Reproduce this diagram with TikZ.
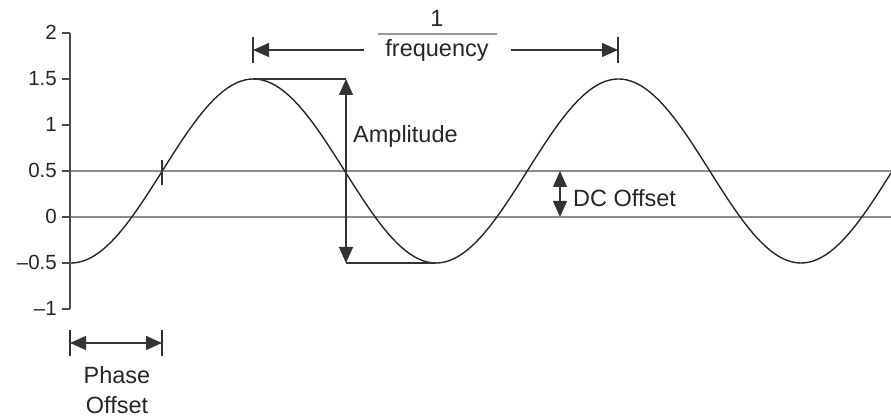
\documentclass[tikz,border=0pt]{standalone}
\usepackage{fontspec}
\setmainfont{Liberation Sans}
\usetikzlibrary{arrows.meta}
\begin{document}
\begin{tikzpicture}[x=1pt,y=-1pt,
  lbl/.style={font=\fontsize{23.5}{27}\selectfont, text=black!85, inner sep=0pt},
  ticklbl/.style={font=\fontsize{20.5}{22}\selectfont, text=black!85, inner sep=0pt, anchor=base east},
  axisline/.style={line width=1.4pt, draw=black!70},
  refline/.style={line width=2.4pt, draw=black!45},
  dimline/.style={line width=1.3pt, draw=black!80},
  wave/.style={line width=1.4pt, draw=black!85},
  tri/.style={-{Triangle[length=16pt,width=14pt]}},
]
\useasboundingbox (0,0) rectangle (891,419);

% reference lines (0.5 and 0)
\coordinate (h5a) at (70,171); \coordinate (h5b) at (891,171);
\coordinate (h0a) at (70,217); \coordinate (h0b) at (891,217);
\draw[refline] (h5a) -- (h5b);
\draw[refline] (h0a) -- (h0b);

% axis
\coordinate (axtop) at (70,33); \coordinate (axbot) at (70,309);
\draw[axisline] (axtop) -- (axbot);
\foreach \i/\y/\t in {a/33/2, b/79/1.5, c/125/1, d/171/0.5, e/217/0, f/263/{–0.5}, g/309/{–1}}{
  \coordinate (tk\i) at (62,\y);
  \draw[axisline] (tk\i) -- (70,\y);
  \node[ticklbl] (tl\i) at (57,\y+7) {\t};
}

% sine wave
\draw[wave] plot[domain=71:891, samples=300, smooth] (\x, {171 + 92*cos((\x-71)*0.98630137)});

% phase crossing tick
\coordinate (pc1) at (162,160); \coordinate (pc2) at (162,185);
\draw[dimline] (pc1) -- (pc2);

% amplitude
\coordinate (pk) at (253,79); \coordinate (ampt) at (346,79);
\coordinate (ampb) at (346,263); \coordinate (tr) at (436,263);
\coordinate (ampm) at (346,171);
\draw[dimline] (pk) -- (ampt);
\draw[dimline] (tr) -- (ampb);
\draw[dimline,tri] (ampm) -- (ampt);
\draw[dimline,tri] (ampm) -- (ampb);
\node[lbl, anchor=base west] (amp) at (353,143) {Amplitude};

% frequency
\coordinate (f1a) at (253,37); \coordinate (f1b) at (253,63);
\coordinate (f2a) at (618,37); \coordinate (f2b) at (618,63);
\draw[dimline] (f1a) -- (f1b);
\draw[dimline] (f2a) -- (f2b);
\coordinate (fl) at (253,50); \coordinate (fr) at (618,50);
\coordinate (fls) at (364,50); \coordinate (frs) at (511,50);
\draw[dimline,tri] (fls) -- (fl);
\draw[dimline,tri] (frs) -- (fr);
\node[lbl, anchor=base] (one) at (437,27) {1};
\coordinate (fb1) at (378,34); \coordinate (fb2) at (497,34);
\draw[line width=2.4pt, draw=black!40] (fb1) -- (fb2);
\node[lbl, anchor=base] (freq) at (437,57) {frequency};

% DC offset
\coordinate (dcm) at (560,194); \coordinate (dct) at (560,171); \coordinate (dcb) at (560,217);
\draw[dimline,tri] (dcm) -- (dct);
\draw[dimline,tri] (dcm) -- (dcb);
\node[lbl, anchor=base west] (dc) at (573,207) {DC Offset};

% phase offset
\coordinate (p1a) at (70,330); \coordinate (p1b) at (70,356);
\coordinate (p2a) at (162,330); \coordinate (p2b) at (162,356);
\draw[dimline] (p1a) -- (p1b);
\draw[dimline] (p2a) -- (p2b);
\coordinate (pl) at (70,343); \coordinate (pr) at (162,343); \coordinate (pm) at (116,343);
\draw[dimline,tri] (pm) -- (pl);
\draw[dimline,tri] (pm) -- (pr);
\node[lbl, anchor=base] (ph1) at (117,383) {Phase};
\node[lbl, anchor=base] (ph2) at (117,413) {Offset};
\end{tikzpicture}
\end{document}
